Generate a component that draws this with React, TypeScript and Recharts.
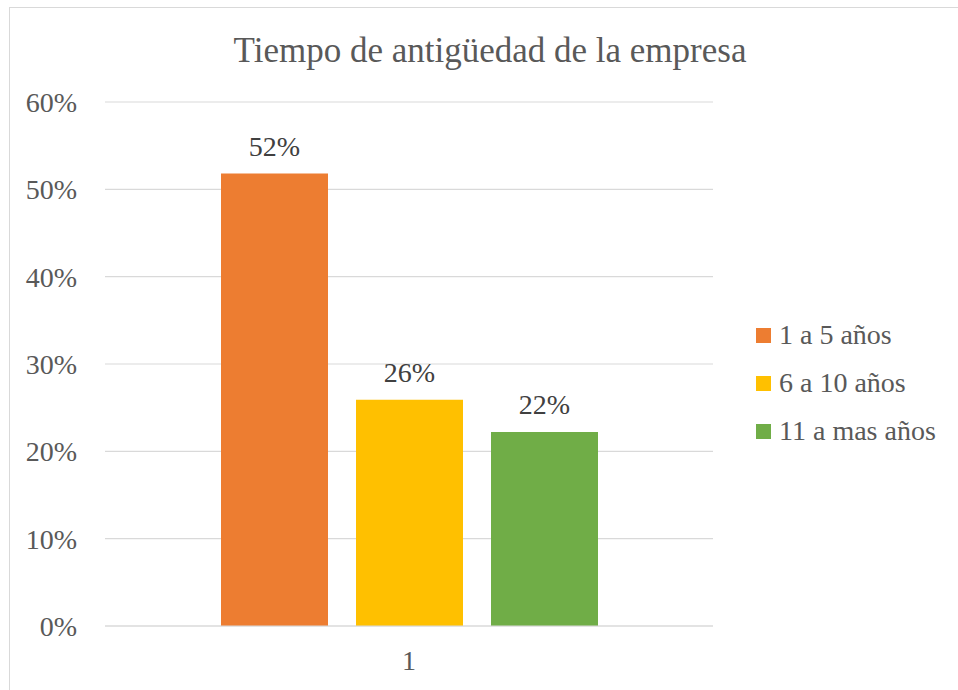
import { BarChart, Bar, XAxis, YAxis, CartesianGrid, Legend, LabelList } from 'recharts'

const categories = ['1']
const seriesNames = ['1 a 5 años', '6 a 10 años', '11 a mas años']
const seriesValues = [0.518, 0.259, 0.222]
const seriesColors = ['#ed7d31', '#ffc000', '#70ad47']
const yTicks = [0, 0.1, 0.2, 0.3, 0.4, 0.5, 0.6]

const data = categories.map((cat) => {
  const row: Record<string, string | number> = { cat }
  seriesNames.forEach((name, i) => {
    row[name] = seriesValues[i]
  })
  return row
})

const font = '"Liberation Serif", serif'
const pct = (v: number) => `${Math.round(v * 100)}%`

function renderLegend(props: any) {
  const items = [...(props.payload || [])].sort(
    (a: any, b: any) => seriesNames.indexOf(a.value) - seriesNames.indexOf(b.value)
  )
  return (
    <div style={{ fontFamily: font, fontSize: 28, color: '#595959', width: 200 }}>
      {items.map((entry: any) => (
        <div key={entry.value} style={{ display: 'flex', alignItems: 'center', height: 48, whiteSpace: 'nowrap' }}>
          <span style={{ width: 15, height: 15, background: entry.color, marginRight: 8, display: 'inline-block', flex: 'none' }} />
          <span>{entry.value}</span>
        </div>
      ))}
    </div>
  )
}

export default function App() {
  return (
    <div style={{ position: 'absolute', left: 0, top: 0, width: 958, height: 690, overflow: 'hidden', background: '#fff' }}>
      <div style={{ position: 'absolute', left: 9, top: 7, width: 980, height: 720, border: '1px solid #d9d9d9' }} />
      <div
        style={{
          position: 'absolute',
          left: 0,
          top: 31,
          width: 980,
          textAlign: 'center',
          fontFamily: font,
          fontSize: 35,
          color: '#595959',
          lineHeight: '40px',
        }}
      >
        Tiempo de antigüedad de la empresa
      </div>
      <div style={{ position: 'absolute', left: 0, top: 0 }}>
        <BarChart
          width={958}
          height={690}
          data={data}
          margin={{ top: 102, right: 45, bottom: 24, left: 0 }}
          barSize={107}
          barGap={28}
        >
          <CartesianGrid vertical={false} stroke="#d9d9d9" strokeWidth={1.2} />
          <XAxis
            dataKey="cat"
            height={40}
            axisLine={{ stroke: '#d9d9d9', strokeWidth: 1.2 }}
            tickLine={false}
            tickMargin={18}
            tick={{ fontFamily: font, fontSize: 28, fill: '#595959' }}
          />
          <YAxis
            width={105}
            domain={[0, 0.6]}
            ticks={yTicks}
            tickFormatter={pct}
            axisLine={false}
            tickLine={false}
            tickMargin={22}
            tick={{ fontFamily: font, fontSize: 28, fill: '#595959' }}
          />
          <Legend
            layout="vertical"
            align="right"
            verticalAlign="middle"
            content={renderLegend}
            wrapperStyle={{ left: 756, top: 311, width: 200 }}
          />
          {seriesNames.map((name, i) => (
            <Bar key={name} dataKey={name} fill={seriesColors[i]} isAnimationActive={false}>
              <LabelList
                dataKey={name}
                position="top"
                offset={18}
                formatter={(v: any) => pct(Number(v))}
                style={{ fontFamily: font, fontSize: 28, fill: '#404040' }}
              />
            </Bar>
          ))}
        </BarChart>
      </div>
    </div>
  )
}
